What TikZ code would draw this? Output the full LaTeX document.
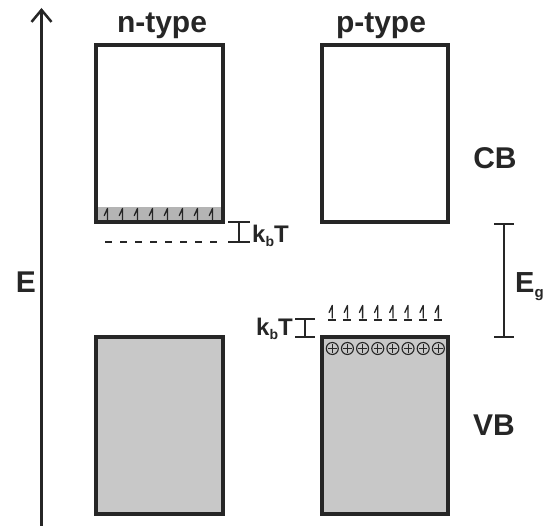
\documentclass[tikz,border=0pt]{standalone}
\usepackage{fontspec}
\setmainfont{Liberation Sans}
\usetikzlibrary{arrows.meta}
\definecolor{ink}{HTML}{262626}
\definecolor{bandgray}{HTML}{C8C8C8}
\definecolor{tailgray}{HTML}{B4B4B4}
\newcommand{\kbT}{k\raisebox{-4pt}{\fontsize{14}{14}\selectfont b}T}
\begin{document}
\begin{tikzpicture}[x=1pt,y=-1pt,
  band/.style={draw=ink, line width=3.4pt},
  lbl/.style={font=\bfseries\fontsize{30}{30}\selectfont, text=ink, inner sep=0},
  klbl/.style={font=\bfseries\fontsize{24}{24}\selectfont, text=ink, inner sep=0},
  bracket/.style={draw=ink, line width=2.6pt},
  spin/.style={draw=ink, line width=1.3pt, line cap=round, line join=round},
  level/.style={draw=ink, line width=2.2pt},
  hole/.style={draw=ink, line width=1.1pt},
]
\useasboundingbox (0,0) rectangle (544,526);

% energy axis
\coordinate (ebot) at (41.5,526);
\coordinate (etop) at (41.5,8);
\draw[ink, line width=2.5pt, -{Straight Barb[length=12pt,width=20pt]}] (ebot) -- (etop);
\node[lbl, anchor=base] (elabel) at (26,293) {E};

% titles
\node[lbl, anchor=base] (ntitle) at (162,33) {n-type};
\node[lbl, anchor=base] (ptitle) at (381,33) {p-type};

% n-type conduction band with thermally excited electrons at its edge
\fill[tailgray] (96,207) rectangle (223,222);
\draw[band] (96,45) rectangle (223,222);
\foreach \i in {0,...,7}{
  \pgfmathsetmacro{\xx}{107.5+15*\i}
  \draw[spin] (\xx,220) -- (\xx,208.5) -- (\xx-3.2,215.5);
}
% donor level
\draw[level, dash pattern=on 7pt off 8pt] (105,242) -- (217,242);

% n-type valence band
\draw[band, fill=bandgray] (96,337) rectangle (223,514);

% p-type bands
\draw[band] (322,45) rectangle (448,222);
\draw[band, fill=bandgray] (322,337) rectangle (448,514);

% holes at the valence band edge and filled acceptor level
\foreach \i in {0,...,7}{
  \pgfmathsetmacro{\xx}{332.3+15.15*\i}
  \draw[hole] (\xx,348.5) circle[radius=6];
  \draw[hole] (\xx-4.2,348.5) -- (\xx+4.2,348.5) (\xx,344.3) -- (\xx,352.7);
  \draw[spin] (\xx,318) -- (\xx,305.5) -- (\xx-3.2,312.5);
  \draw[level] (\xx-4,320) -- (\xx+4,320);
}

% k_b T spacings
\coordinate (nkt1) at (239,222);
\coordinate (nkt2) at (239,242);
\draw[bracket] (nkt1) -- (nkt2);
\draw[bracket] ([xshift=-11pt]nkt1) -- ([xshift=11pt]nkt1);
\draw[bracket] ([xshift=-11pt]nkt2) -- ([xshift=11pt]nkt2);
\node[klbl, anchor=base west] (nkt) at (252,243) {\kbT};

\coordinate (pkt1) at (305,319);
\coordinate (pkt2) at (305,337);
\draw[bracket] (pkt1) -- (pkt2);
\draw[bracket] ([xshift=-10pt]pkt1) -- ([xshift=10pt]pkt1);
\draw[bracket] ([xshift=-10pt]pkt2) -- ([xshift=10pt]pkt2);
\node[klbl, anchor=base east] (pkt) at (293,336) {\kbT};

% band gap
\coordinate (eg1) at (504,224);
\coordinate (eg2) at (504,337);
\draw[bracket] (eg1) -- (eg2);
\draw[bracket] ([xshift=-10pt]eg1) -- ([xshift=10pt]eg1);
\draw[bracket] ([xshift=-10pt]eg2) -- ([xshift=10pt]eg2);
\node[anchor=base west, inner sep=0, text=ink, font=\bfseries\fontsize{29}{29}\selectfont] (eglabel) at (515,293) {E\raisebox{-5pt}{\fontsize{15}{15}\selectfont g}};

% band names
\node[lbl] (cb) at (495,158) {CB};
\node[lbl] (vb) at (494,425) {VB};
\end{tikzpicture}
\end{document}
